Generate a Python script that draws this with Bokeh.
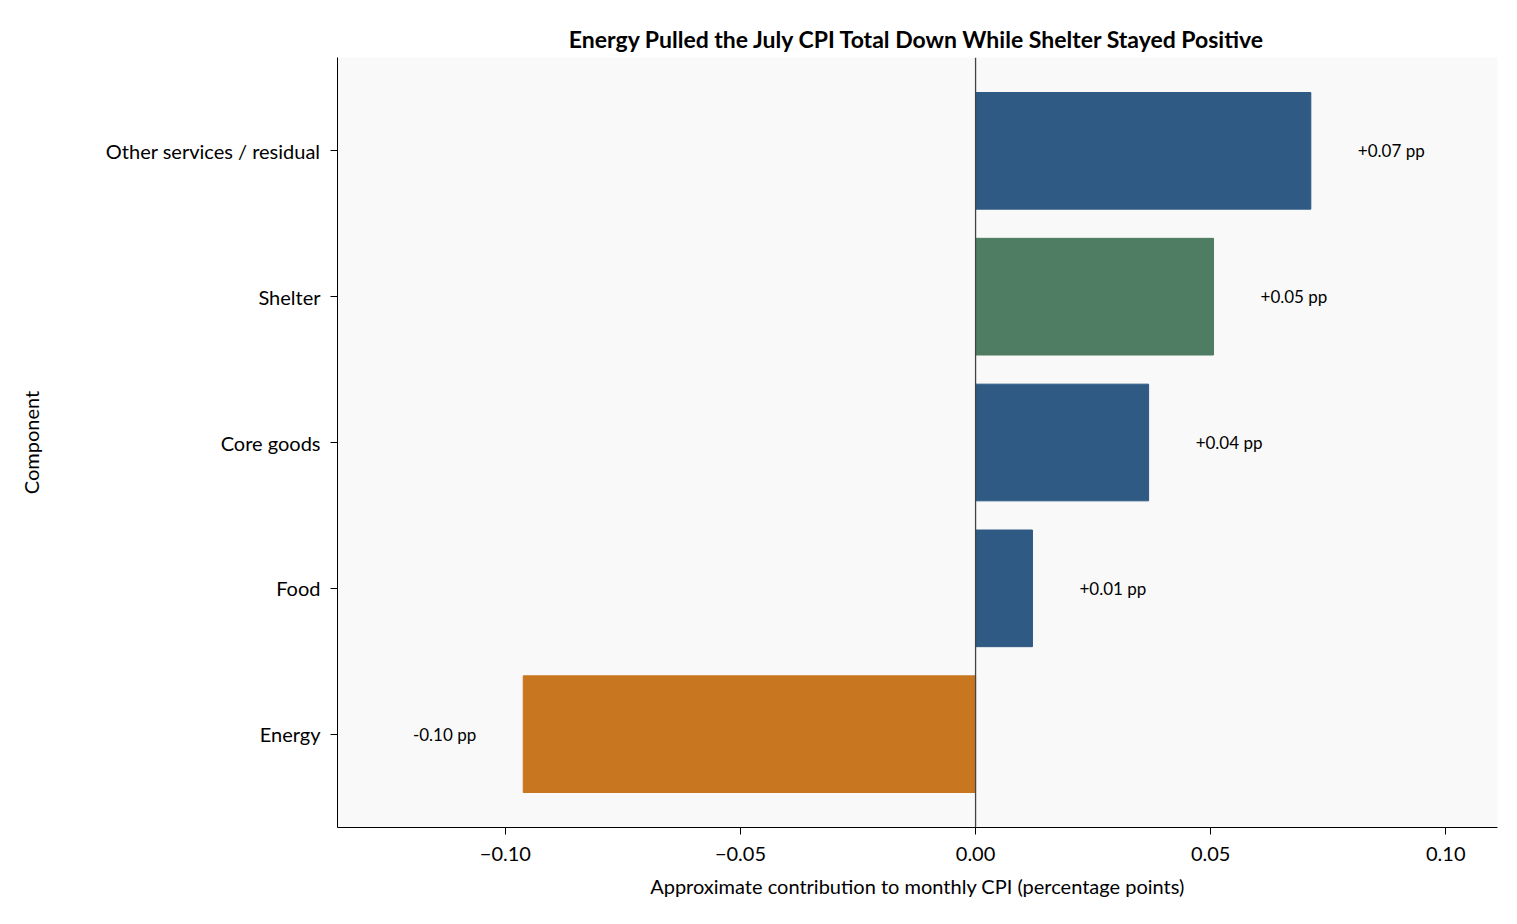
from bokeh.plotting import figure
from bokeh.models import ColumnDataSource, FixedTicker, CustomJSTickFormatter, Span, Range1d, FactorRange
from bokeh.embed import file_html
from bokeh.resources import INLINE
from bokeh.core.properties import value

components = ["Energy", "Food", "Core goods", "Shelter", "Other services / residual"]
contrib = [-0.0962, 0.0121, 0.0368, 0.0506, 0.0713]
colors = ["#c87620", "#2e5a84", "#2e5a84", "#4e7d63", "#2e5a84"]
labels = ["-0.10 pp", "+0.01 pp", "+0.04 pp", "+0.05 pp", "+0.07 pp"]
ticks = [-0.10, -0.05, 0.0, 0.05, 0.10]

FONT = "Lato"
yr = FactorRange(factors=components, range_padding=0.14, range_padding_units="absolute")
p = figure(width=1500, height=900, y_range=yr, x_range=Range1d(-0.1357, 0.111),
           output_backend="svg", toolbar_location=None,
           min_border_left=337, min_border_right=3, min_border_top=57, min_border_bottom=73,
           title="Energy Pulled the July CPI Total Down While Shelter Stayed Positive")
p.title.align = "center"
p.title.text_font = FONT
p.title.text_font_size = "23px"
p.title.text_font_style = "bold"
p.title.text_color = "black"
p.background_fill_color = "#f9f9f9"
p.border_fill_color = "white"
p.outline_line_color = None
p.grid.visible = False

src = ColumnDataSource(dict(y=components, x=contrib, c=colors))
p.hbar(y="y", left=0, right="x", height=0.8, color="c", source=src)

pos_x = [v + 0.01 for v in contrib if v >= 0]
pos_y = [c for c, v in zip(components, contrib) if v >= 0]
pos_t = [t for t, v in zip(labels, contrib) if v >= 0]
neg_x = [v - 0.01 for v in contrib if v < 0]
neg_y = [c for c, v in zip(components, contrib) if v < 0]
neg_t = [t for t, v in zip(labels, contrib) if v < 0]
p.text(x=pos_x, y=pos_y, text=pos_t, text_align="left", text_baseline="middle",
       text_font=value(FONT), text_font_size="17px", text_color="black")
p.text(x=neg_x, y=neg_y, text=neg_t, text_align="right", text_baseline="middle",
       text_font=value(FONT), text_font_size="17px", text_color="black")

p.add_layout(Span(location=0, dimension="height", line_color="#444444", line_width=1.3))

p.xaxis.ticker = FixedTicker(ticks=ticks)
p.xaxis.formatter = CustomJSTickFormatter(code="return (tick < -1e-9 ? '\\u2212' : '') + Math.abs(tick).toFixed(2);")
p.xaxis.axis_label = "Approximate contribution to monthly CPI (percentage points)"
p.yaxis.axis_label = "Component"
for ax in (p.xaxis, p.yaxis):
    ax.axis_label_text_font = FONT
    ax.axis_label_text_font_style = "normal"
    ax.axis_label_text_font_size = "20px"
    ax.axis_label_text_color = "black"
    ax.major_label_text_font = FONT
    ax.major_label_text_font_size = "20px"
    ax.minor_tick_line_color = None
    ax.major_tick_in = 0
    ax.major_tick_out = 7
    ax.axis_line_color = "black"
    ax.major_tick_line_color = "black"
    ax.major_label_text_color = "black"
p.xaxis.major_label_standoff = 12
p.xaxis.axis_label_standoff = 10
p.yaxis.major_label_standoff = 10
p.yaxis.axis_label_standoff = 60

open("out.html", "w").write(file_html(p, INLINE))
